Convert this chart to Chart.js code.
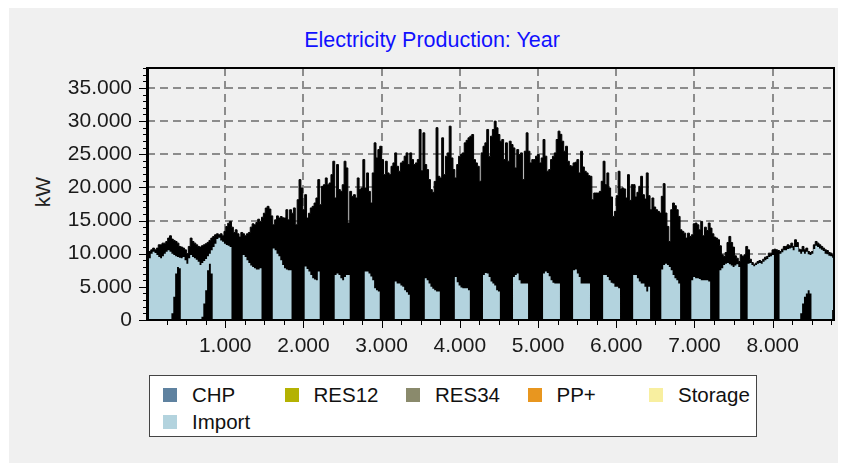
<!DOCTYPE html>
<html>
<head>
<meta charset="utf-8">
<script src="https://cdn.jsdelivr.net/npm/chart.js@4.4.0/dist/chart.umd.min.js"></script>
<style>
  html, body { margin: 0; padding: 0; background: #ffffff; }
  #wrap { position: relative; width: 845px; height: 468px; overflow: hidden; font-family: "Liberation Sans", Arial, sans-serif; }
  #panel { position: absolute; left: 9px; top: 8px; width: 829px; height: 455px; background: #f0f0f0; }
  #c { position: absolute; left: 0; top: 0; }
  #title { position: absolute; left: 232px; width: 400px; top: 28px; text-align: center; color: #1010ff; font-size: 21.5px; }
  #ylab { position: absolute; left: 43px; top: 192px; transform: translate(-50%, -50%) rotate(-90deg); font-size: 21px; color: #222; }
  #legend { position: absolute; left: 149px; top: 375px; width: 606px; height: 60px; background: #ffffff; border: 1px solid #444; }
  .sw { position: absolute; width: 14px; height: 14px; }
  .lt { position: absolute; font-size: 20.5px; line-height: 22px; color: #111; }
</style>
</head>
<body>
<div id="wrap">
  <div id="panel"></div>
  <div id="title">Electricity Production: Year</div>
  <div id="ylab">kW</div>
  <canvas id="c" width="845" height="468"></canvas>
  <div id="legend"></div>
</div>
<script>
// series, one value per day (24 h), last entry = right edge
const totalKW = [
  10080,10330,10580,10840,10580,10840,11340,11340,11590,11590,
  11840,12350,12700,12200,12000,11840,11590,11090,11000,10840,
  10580,10000,11090,12350,11840,11590,11340,11090,11000,11200,
  11340,11500,11700,12000,12350,12600,12850,13000,12850,13000,
  12700,13360,14100,14600,14870,14000,13200,13600,13000,12500,
  13200,13000,12700,13000,13200,14000,14500,14350,14700,15200,
  14870,15500,16100,16880,17140,16730,15700,14350,15100,15700,
  15370,15600,15400,15370,16630,15100,16630,16100,16900,14360,
  18140,21170,19900,16630,18900,15370,16100,16900,17140,17640,
  18400,21170,17390,20160,20400,21420,20400,20660,21920,23940,
  18400,23440,19660,19400,20400,23940,22930,14620,19400,18650,
  18900,18400,21420,19660,19900,24190,19900,22180,19400,17640,
  22180,26710,24440,25700,26200,24190,21920,23940,22180,21920,
  23180,23690,25200,23180,22430,23690,23940,24700,25200,23440,
  25200,24190,23440,23690,24190,28730,22500,28220,23440,22680,
  21170,19660,19250,20900,29000,21670,21420,27470,21920,24700,
  25200,29230,24440,22680,21420,23440,24700,24950,25200,26710,
  27100,27470,27720,27970,24190,23690,23180,20920,25200,26200,
  26710,28730,24700,27720,28730,29990,28980,27970,26960,27220,
  24190,26710,23940,26960,26460,25950,22930,25700,24950,25200,
  21170,25450,28220,25450,23690,24190,24190,24700,24950,23690,
  24440,27220,24700,22430,22680,24190,24700,25200,27220,28480,
  28000,26960,25450,26200,23940,23280,23180,23690,23790,24190,
  22180,25450,23080,22430,22180,21770,21670,18140,19150,19150,
  19150,19400,20920,23940,20410,22180,19910,18550,15620,16380,
  18750,22430,19760,19910,19760,18400,21920,18040,20410,20410,
  18550,19250,20160,21670,18900,18240,22180,18750,16630,18400,
  17040,16630,16380,16130,18650,20560,16130,14110,11840,16630,
  17640,17240,16630,15620,13600,13360,13100,12350,13100,12600,
  12850,14510,14620,14360,13600,14870,12700,14000,13500,14620,
  13860,13000,12500,12350,12100,11190,9830,9580,10180,11690,
  12600,11690,10990,9680,9320,8820,9830,9580,9830,11090,
  10580,9170,8670,8320,8570,8820,8970,8820,9170,9480,
  9580,10080,10080,10580,10680,10580,10480,10330,10680,11090,
  11090,11340,11190,11590,11090,12100,11690,10680,10580,11090,
  10580,10840,10330,10180,10330,11340,11840,11590,11340,11090,
  10840,10580,10480,10180,10080,9830,
  9830
];

// upper edge of the light blue Import band
const importKW = [
  9100,9300,10000,10300,10100,9800,9500,9300,9600,10000,
  10300,10500,10300,10000,9800,9600,9500,9400,9300,9500,
  9000,8500,9300,9800,9500,9300,9100,8800,8300,8600,
  8900,9200,9600,10000,10500,11000,11500,12200,12400,12000,
  11800,11500,11300,11200,11000,0,0,0,0,0,
  0,9800,9500,9000,8600,8200,8000,7800,7600,7600,
  7800,0,0,0,0,0,0,10800,10500,10000,
  9600,9000,8300,7800,7600,7500,7500,0,0,0,
  0,0,0,0,8060,7700,7300,6800,6300,6100,
  6000,7300,0,0,0,0,0,0,0,0,
  6800,7000,6800,6300,6000,6500,6800,6800,0,0,
  0,0,0,0,0,0,7300,7300,7000,6550,
  6000,4800,4500,4300,0,0,0,0,0,0,
  0,0,5800,5500,5500,5200,5000,4500,4200,3800,
  0,0,0,0,0,0,0,0,6300,6000,
  5500,5000,4700,4500,4300,4300,0,0,0,0,
  0,0,0,0,6500,5700,5200,4900,4800,4800,
  4800,4500,0,0,0,0,0,0,0,6800,
  7100,7000,6500,5800,5500,5200,4500,4300,0,0,
  0,0,0,0,0,6500,6800,7000,6000,5500,
  5500,5500,5500,0,0,0,0,0,0,0,
  0,7000,7300,7100,6600,6000,5600,5500,5500,5500,
  0,0,0,0,0,0,0,7500,7600,7000,
  6500,5500,5500,5500,5500,5500,0,0,0,0,
  0,0,0,6800,6800,6500,6000,5600,5500,5000,
  5000,4800,0,0,0,0,0,0,0,6800,
  6800,6300,5800,5500,5500,5000,4300,5000,0,0,
  0,0,0,0,7600,8300,8500,8300,8000,7500,
  6800,6300,6000,5500,0,0,0,0,0,0,
  6000,6500,6300,6300,6200,6000,6000,6000,6000,5800,
  0,0,0,0,0,7500,7800,8300,8500,8600,
  8400,8200,8000,8200,8400,8000,0,0,0,0,
  8500,8600,8300,8100,8300,8500,8600,8500,8800,9000,
  9200,9500,9600,9800,0,0,0,10000,10200,10500,
  10500,10700,10800,10900,10500,11000,11000,10300,10000,10300,
  10000,10300,9900,9800,10000,10700,11200,11000,10800,10600,
  10400,10000,9900,9700,9600,9400,
  9400
];

// lower edge of the Import band (black notches underneath it)
const baseKW = [
  3500,0,0,0,0,0,0,0,0,0,
  0,0,0,1000,3500,7000,8000,7800,0,0,
  0,0,0,0,0,0,0,0,0,500,
  2500,4500,7500,8500,7000,0,0,0,0,0,
  0,0,0,0,0,0,0,0,0,0,
  0,0,0,0,0,0,0,0,0,0,
  0,0,0,0,0,0,0,0,0,0,
  0,0,0,0,0,0,0,0,0,0,
  0,0,0,0,0,0,0,0,0,0,
  0,0,0,0,0,0,0,0,0,0,
  0,0,0,0,0,0,0,0,0,0,
  0,0,0,0,0,0,0,0,0,0,
  0,0,0,0,0,0,0,0,0,0,
  0,0,0,0,0,0,0,0,0,0,
  0,0,0,0,0,0,0,0,0,0,
  0,0,0,0,0,0,0,0,0,0,
  0,0,0,0,0,0,0,0,0,0,
  0,0,0,0,0,0,0,0,0,0,
  0,0,0,0,0,0,0,0,0,0,
  0,0,0,0,0,0,0,0,0,0,
  0,0,0,0,0,0,0,0,0,0,
  0,0,0,0,0,0,0,0,0,0,
  0,0,0,0,0,0,0,0,0,0,
  0,0,0,0,0,0,0,0,0,0,
  0,0,0,0,0,0,0,0,0,0,
  0,0,0,0,0,0,0,0,0,0,
  0,0,0,0,0,0,0,0,0,0,
  0,0,0,0,0,0,0,0,0,0,
  0,0,0,0,0,0,0,0,0,0,
  0,0,0,0,0,0,0,0,0,0,
  0,0,0,0,0,0,0,0,0,0,
  0,0,0,0,0,0,0,0,0,0,
  0,0,0,0,0,0,0,0,0,0,
  0,0,0,0,0,0,0,0,0,0,
  0,0,0,0,0,0,0,0,1000,2500,
  3500,4000,4500,4000,0,0,0,0,0,0,
  0,0,0,0,0,1500,
  1500
];

// hour of year at which each reading starts
const hours = totalKW.map((_, i) => Math.min(i * 24, 8784));

const xTickValues = [1000, 2000, 3000, 4000, 5000, 6000, 7000, 8000];
const yTickValues = [0, 5000, 10000, 15000, 20000, 25000, 30000, 35000];

const legendLabels = ['CHP', 'RES12', 'RES34', 'PP+', 'Storage', 'Import'];
const legendColors = ['#5f82a0', '#b4b202', '#8a8a6c', '#e8961f', '#f8efa0', '#b3d3de'];

const yMax = 38000;
const xMax = 8784;

const dots = n => String(n).replace(/\B(?=(\d{3})+(?!\d))/g, '.');
const pts = arr => arr.map((v, i) => ({ x: hours[i], y: v }));

// frame + small ticks like the original plot
const framePlugin = {
  id: 'frame',
  afterDatasetsDraw(chart) {
    const { ctx, chartArea: a, scales: { x, y } } = chart;
    ctx.save();
    ctx.strokeStyle = '#000';
    ctx.lineWidth = 1;
    ctx.beginPath();
    for (let h = 250; h < xMax; h += 250) {
      const px = Math.round(x.getPixelForValue(h)) + 0.5;
      ctx.moveTo(px, a.bottom);
      ctx.lineTo(px, a.bottom + (h % 1000 === 0 ? 8 : 5));
    }
    for (let v = 0; v <= yMax; v += 1000) {
      const py = Math.round(y.getPixelForValue(v)) + 0.5;
      ctx.moveTo(a.left, py);
      ctx.lineTo(a.left - (v % 5000 === 0 ? 8 : 4), py);
    }
    ctx.stroke();
    ctx.lineWidth = 2;
    ctx.strokeRect(a.left, a.top, a.right - a.left, a.bottom - a.top);
    ctx.fillStyle = '#000';
    ctx.fillRect(a.left - 1, a.top, 3, a.bottom - a.top);
    ctx.restore();
  }
};

new Chart(document.getElementById('c').getContext('2d'), {
  type: 'line',
  data: {
    datasets: [
      {
        label: 'Import',
        data: pts(importKW),
        stepped: 'before',
        borderWidth: 0,
        pointRadius: 0,
        backgroundColor: '#b3d3de',
        fill: 1,
        order: 0
      },
      {
        label: 'base',
        data: pts(baseKW),
        stepped: 'before',
        borderWidth: 0,
        pointRadius: 0,
        fill: false,
        order: 1
      },
      {
        label: 'total',
        data: pts(totalKW),
        stepped: 'before',
        borderColor: '#000',
        borderWidth: 1,
        pointRadius: 0,
        backgroundColor: '#000',
        fill: 'origin',
        order: 2
      }
    ]
  },
  options: {
    responsive: false,
    animation: false,
    devicePixelRatio: 1,
    parsing: false,
    layout: { padding: { left: 0, right: 11, top: 68, bottom: 108 } },
    plugins: {
      legend: { display: false },
      title: { display: false },
      tooltip: { enabled: false }
    },
    scales: {
      x: {
        type: 'linear',
        min: 0,
        max: xMax,
        afterFit: s => { s.height = 40; },
        afterBuildTicks: s => { s.ticks = xTickValues.map(v => ({ value: v })); },
        border: { display: false, dash: [8, 5] },
        grid: { drawTicks: false, lineWidth: 2, color: '#8c8c8c' },
        ticks: {
          autoSkip: false,
          maxRotation: 0,
          padding: 14,
          color: '#1a1a1a',
          font: { family: 'Liberation Sans', size: 21 },
          callback: v => dots(v)
        }
      },
      y: {
        min: 0,
        max: yMax,
        afterFit: s => { s.width = 147; },
        afterBuildTicks: s => { s.ticks = yTickValues.map(v => ({ value: v })); },
        border: { display: false, dash: [8, 5] },
        grid: {
          drawTicks: false,
          lineWidth: 2,
          color: c => (c.tick && c.tick.value > 0 ? '#8c8c8c' : 'transparent')
        },
        ticks: {
          autoSkip: false,
          padding: 15,
          color: '#1a1a1a',
          font: { family: 'Liberation Sans', size: 21 },
          callback: v => dots(v)
        }
      }
    }
  },
  plugins: [framePlugin]
});

// legend box
const box = document.getElementById('legend');
legendLabels.forEach((name, i) => {
  const col = i % 5, row = Math.floor(i / 5);
  const sw = document.createElement('div');
  sw.className = 'sw';
  sw.style.left = (13 + col * 121.5) + 'px';
  sw.style.top = (12 + row * 27) + 'px';
  sw.style.background = legendColors[i];
  const t = document.createElement('div');
  t.className = 'lt';
  t.textContent = name;
  t.style.left = (42 + col * 121.5) + 'px';
  t.style.top = (8 + row * 27) + 'px';
  box.appendChild(sw);
  box.appendChild(t);
});
</script>
</body>
</html>
